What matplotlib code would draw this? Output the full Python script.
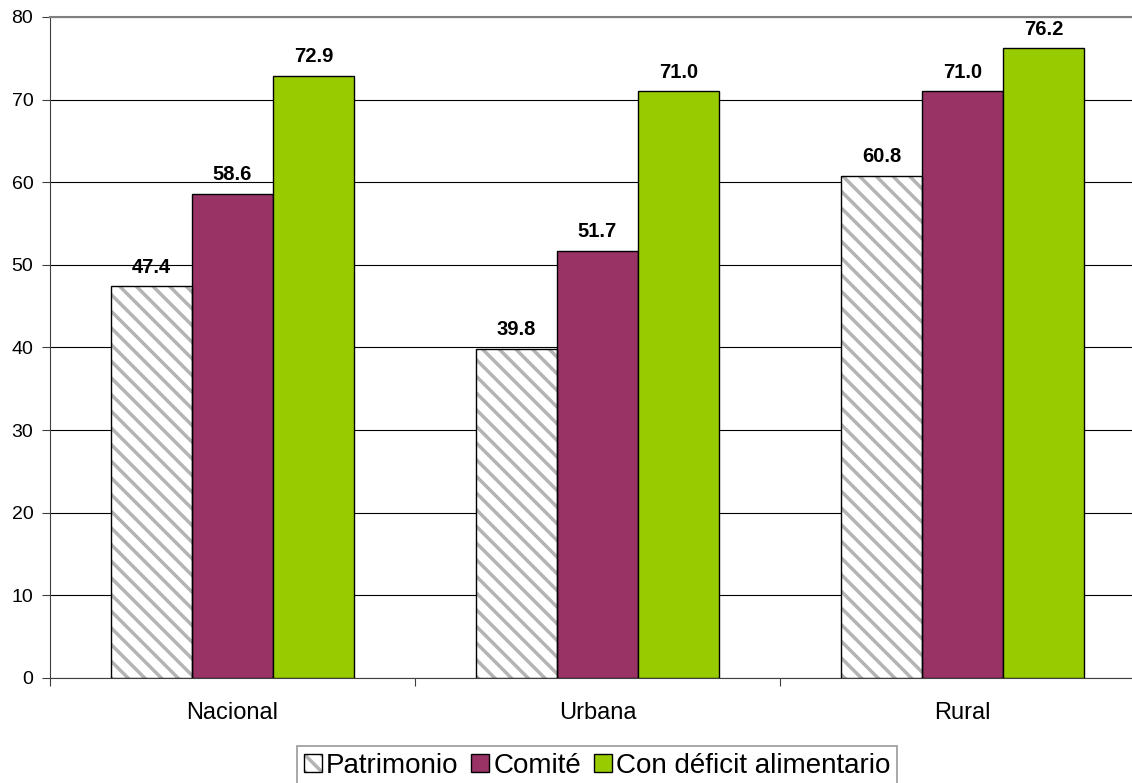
import matplotlib
matplotlib.use("Agg")
from matplotlib import pyplot as plt
from matplotlib.patches import Patch
import numpy as np

plt.rcParams['font.family'] = ['Liberation Sans', 'DejaVu Sans']
plt.rcParams['hatch.linewidth'] = 2.5

categorias = ["Nacional", "Urbana", "Rural"]
series = ["Patrimonio", "Comité", "Con déficit alimentario"]
patrimonio = [47.4, 39.8, 60.8]
comite = [58.6, 51.7, 71.0]
deficit = [72.9, 71.0, 76.2]

fig = plt.figure(figsize=(11.32, 7.83), dpi=100)
ax = fig.add_axes([50/1132, 1-678/783, 1095/1132, (678-17)/783])

x = np.arange(len(categorias))
w = 0.222

# patrimonio: blanco con rayado gris
ax.bar(x - w, patrimonio, w, color="white", edgecolor="#b4b4b4", hatch="\\\\", linewidth=0, zorder=3)
ax.bar(x - w, patrimonio, w, fill=False, edgecolor="black", linewidth=1.0, zorder=4)
ax.bar(x, comite, w, color="#993366", edgecolor="black", linewidth=1.0, zorder=3)
ax.bar(x + w, deficit, w, color="#99cc00", edgecolor="black", linewidth=1.0, zorder=3)

for off, vals in [(-w, patrimonio), (0, comite), (w, deficit)]:
    for xi, v in zip(x, vals):
        ax.annotate(f"{v:.1f}", (xi + off, v), xytext=(0, 7), textcoords="offset points",
                    ha="center", va="bottom", fontsize=14.5, fontweight="bold")

ax.set_xlim(-0.5, 2.5)
ax.set_ylim(0, 80)
ax.set_yticks(np.arange(0, 81, 10))
ax.yaxis.grid(True, color="black", linewidth=0.8, zorder=0)
ax.set_axisbelow(True)

ax.set_xticks([-0.5, 0.5, 1.5, 2.5])
ax.set_xticklabels([])
ax.set_xticks(x, minor=True)
ax.set_xticklabels(categorias, minor=True)
ax.tick_params(axis="x", which="minor", length=0, pad=17, labelsize=17)
ax.tick_params(axis="x", which="major", length=6, color="#404040")
ax.tick_params(axis="y", length=6, color="#404040", labelsize=14, pad=6)

for s in ["left", "bottom"]:
    ax.spines[s].set_color("#404040")
ax.spines["top"].set_color("#808080")
ax.spines["top"].set_linewidth(1.5)
ax.spines["right"].set_visible(False)

h_pat = (Patch(facecolor="white", edgecolor="#b4b4b4", hatch="\\\\", linewidth=0),
         Patch(fill=False, edgecolor="black", linewidth=1.0))
handles = [h_pat,
           Patch(facecolor="#993366", edgecolor="black"),
           Patch(facecolor="#99cc00", edgecolor="black")]
leg = fig.legend(handles, series, loc="upper center", bbox_to_anchor=(597/1132, 1-746/783),
                 ncol=3, fontsize=20, frameon=True, fancybox=False, borderpad=0.25,
                 handlelength=0.65, handleheight=0.65, handletextpad=0.15, columnspacing=0.45,
                 borderaxespad=0)
leg.get_frame().set_edgecolor("#808080")
leg.get_frame().set_linewidth(1.2)

fig.savefig("out.png", dpi=100)
